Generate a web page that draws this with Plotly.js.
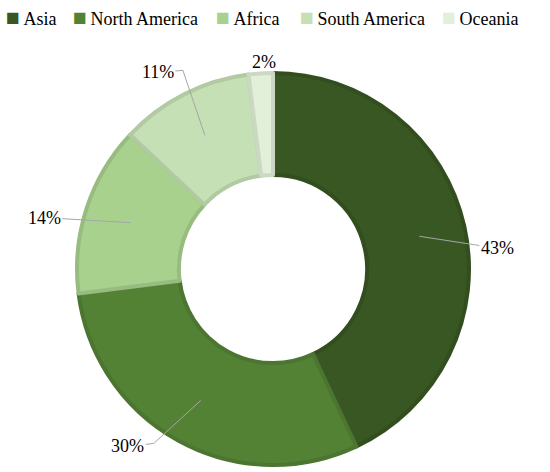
<!DOCTYPE html>
<html>
<head>
<meta charset="utf-8">
<script src="https://cdn.plot.ly/plotly-3.0.1.min.js"></script>
<style>
  html, body { margin: 0; padding: 0; background: #fff; }
  #chart { width: 550px; height: 472px; }
</style>
</head>
<body>
<div id="chart"></div>
<script>
var regions = ['Asia', 'North America', 'Africa', 'South America', 'Oceania'];
var shares = [43, 30, 14, 11, 2];

var fills = ['#385723', '#548235', '#a9d18e', '#c5e0b4', '#e2f0d9'];
var edges = ['#324e1f', '#4b7530', '#98bc80', '#b1caa2', '#cbd8c3'];

var serif = 'Liberation Serif, Times New Roman, serif';

// pie geometry in pixels (margins are 0, so paper == page)
var W = 550, H = 472;
var cx = 273, cy = 269, R = 196;

// leader lines: optional bend point, then label centre (px, from the line start)
var bendShift = [null, [-47, 43], null, [-22, -65], null];
var labelShift = [[78, 12], [-73, 46], [-86, -5], [-47, -63], [0, -57]];
// left edge of each legend entry along the top row (px)
var legendX = [4, 71, 214, 298, 440];

function px(x) { return x / W; }
function py(y) { return 1 - y / H; }

var total = shares.reduce(function (a, b) { return a + b; }, 0);
var annotations = [];
var shapes = [];
var acc = 0;
for (var i = 0; i < shares.length; i++) {
  var mid = (acc + shares[i] / 2) / total;
  acc += shares[i];
  var ang = mid * 2 * Math.PI;
  var hx = cx + 150 * Math.sin(ang);
  var hy = cy - 150 * Math.cos(ang);
  var lx = hx + labelShift[i][0], ly = hy + labelShift[i][1];
  var a = {
    text: shares[i] + '%',
    font: {family: serif, size: 18, color: '#000'},
    xref: 'paper', yref: 'paper',
    xanchor: 'center', yanchor: 'middle'
  };
  if (i === shares.length - 1) {
    // tiny slice: label only
    a.x = px(lx); a.y = py(ly);
    a.showarrow = false;
  } else {
    var bx = hx, by = hy;
    if (bendShift[i]) {
      bx = hx + bendShift[i][0];
      by = hy + bendShift[i][1];
      shapes.push({
        type: 'line', xref: 'paper', yref: 'paper',
        x0: px(hx), y0: py(hy), x1: px(bx), y1: py(by),
        line: {color: '#a6a6a6', width: 1}
      });
    }
    a.x = px(bx); a.y = py(by);
    a.showarrow = true;
    a.arrowhead = 0;
    a.arrowwidth = 1;
    a.arrowcolor = '#a6a6a6';
    a.standoff = 0;
    a.ax = lx - bx;
    a.ay = ly - by;
  }
  annotations.push(a);
}

// legend row: coloured square + name
regions.forEach(function (name, k) {
  annotations.push({
    text: '<span style="color:' + fills[k] + ';font-size:23px">\u25A0</span>\u2009' + name,
    font: {family: serif, size: 18, color: '#000'},
    xref: 'paper', yref: 'paper',
    x: px(legendX[k]), y: py(17),
    xanchor: 'left', yanchor: 'middle',
    showarrow: false
  });
});

var trace = {
  type: 'pie',
  labels: regions,
  values: shares,
  hole: 0.48,
  sort: false,
  direction: 'clockwise',
  rotation: 0,
  textinfo: 'none',
  hoverinfo: 'label+percent',
  showlegend: false,
  marker: {colors: fills, line: {color: edges, width: 4}},
  domain: {
    x: [(cx - R) / W, (cx + R) / W],
    y: [1 - (cy + R) / H, 1 - (cy - R) / H]
  }
};

var layout = {
  width: W, height: H,
  margin: {l: 0, r: 0, t: 0, b: 0},
  paper_bgcolor: '#fff',
  showlegend: false,
  annotations: annotations,
  shapes: shapes
};

Plotly.newPlot('chart', [trace], layout, {displayModeBar: false, staticPlot: true});
</script>
</body>
</html>
